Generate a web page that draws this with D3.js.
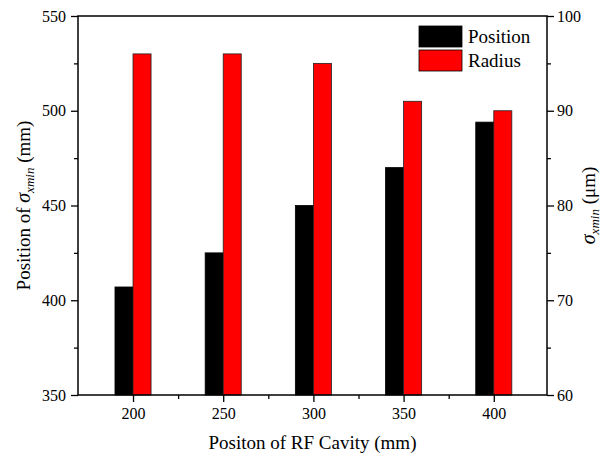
<!DOCTYPE html>
<html>
<head>
<meta charset="utf-8">
<script src="https://cdn.jsdelivr.net/npm/d3@7"></script>
<style>
  body { margin: 0; background: #fff; }
  svg { display: block; }
  svg text { font-family: "Times New Roman", "Liberation Serif", "DejaVu Serif", serif; }
</style>
</head>
<body>
<svg id="chart" width="609" height="457"></svg>
<script>
// RF cavity positions (mm)
const cavityPositions = [200, 250, 300, 350, 400];
// position of sigma_xmin (mm), left axis
const positionValues = [407, 425, 450, 470, 494];
// sigma_xmin radius (um), right axis
const radiusValues = [96, 96, 95, 91, 90];

const leftTicks = [350, 400, 450, 500, 550];
const rightTicks = [60, 70, 80, 90, 100];

const margin = { top: 16, right: 62, bottom: 62, left: 78 };
const width = 609;
const height = 457;
const innerWidth = width - margin.left - margin.right;
const innerHeight = height - margin.top - margin.bottom;

const svg = d3.select('#chart');
const g = svg.append('g').attr('transform', `translate(${margin.left},${margin.top})`);

const xScale = d3.scaleLinear().domain([169.5, 429.5]).range([0, innerWidth]);
const yLeft = d3.scaleLinear().domain([350, 550]).range([innerHeight, 0]);
const yRight = d3.scaleLinear().domain([60, 100]).range([innerHeight, 0]);

const barWidth = 10; // in x units

// Bars
g.selectAll('rect.pos')
  .data(cavityPositions)
  .join('rect')
  .attr('class', 'pos')
  .attr('x', (d) => xScale(d - barWidth))
  .attr('width', (d) => xScale(d) - xScale(d - barWidth))
  .attr('y', (d, i) => yLeft(positionValues[i]))
  .attr('height', (d, i) => innerHeight - yLeft(positionValues[i]))
  .attr('fill', '#000')
  .attr('stroke', '#000')
  .attr('stroke-width', 0.8);

g.selectAll('rect.rad')
  .data(cavityPositions)
  .join('rect')
  .attr('class', 'rad')
  .attr('x', (d) => xScale(d))
  .attr('width', (d) => xScale(d + barWidth) - xScale(d))
  .attr('y', (d, i) => yRight(radiusValues[i]))
  .attr('height', (d, i) => innerHeight - yRight(radiusValues[i]))
  .attr('fill', '#ff0000')
  .attr('stroke', '#222')
  .attr('stroke-width', 0.8);

// Frame
g.append('rect')
  .attr('width', innerWidth)
  .attr('height', innerHeight)
  .attr('fill', 'none')
  .attr('stroke', '#000')
  .attr('stroke-width', 1.5);

const styleAxis = (axis) => {
  axis.attr('font-family', null).attr('font-size', null);
  axis.select('.domain').remove();
  axis.selectAll('.tick line').attr('stroke', '#000').attr('stroke-width', 1.3);
  axis.selectAll('.tick text')
    .attr('fill', '#000')
    .style('font-size', '16px');
};
const minorStyle = (axis) => {
  axis.select('.domain').remove();
  axis.selectAll('.tick line').attr('stroke', '#000').attr('stroke-width', 1.3);
  axis.selectAll('.tick text').remove();
};

// Left axis
g.append('g')
  .call(d3.axisLeft(yLeft).tickValues(leftTicks).tickSize(7).tickPadding(5))
  .call(styleAxis);
g.append('g')
  .call(d3.axisLeft(yLeft).tickValues([375, 425, 475, 525]).tickSize(4))
  .call(minorStyle);

// Right axis
g.append('g')
  .attr('transform', `translate(${innerWidth},0)`)
  .call(d3.axisRight(yRight).tickValues(rightTicks).tickSize(7).tickPadding(3))
  .call(styleAxis);
g.append('g')
  .attr('transform', `translate(${innerWidth},0)`)
  .call(d3.axisRight(yRight).tickValues([65, 75, 85, 95]).tickSize(4))
  .call(minorStyle);

// Bottom axis
g.append('g')
  .attr('transform', `translate(0,${innerHeight})`)
  .call(d3.axisBottom(xScale).tickValues(cavityPositions).tickSize(7).tickPadding(6))
  .call(styleAxis);
g.append('g')
  .attr('transform', `translate(0,${innerHeight})`)
  .call(d3.axisBottom(xScale).tickValues([225, 275, 325, 375]).tickSize(4))
  .call(minorStyle);

// Axis titles
svg.append('text')
  .attr('x', margin.left + innerWidth / 2)
  .attr('y', 449)
  .attr('text-anchor', 'middle')
  .attr('font-size', '19px')
  .attr('fill', '#000')
  .text('Positon of RF Cavity (mm)');

const leftTitle = svg.append('text')
  .attr('transform', `translate(30,${margin.top + innerHeight / 2}) rotate(-90)`)
  .attr('text-anchor', 'middle')
  .attr('font-size', '19px')
  .attr('fill', '#000');
leftTitle.append('tspan').text('Position of ');
leftTitle.append('tspan').attr('font-style', 'italic').attr('font-size', '20px').text('σ');
leftTitle.append('tspan').attr('font-style', 'italic').attr('font-size', '13px').attr('dy', 4).text('xmin');
leftTitle.append('tspan').attr('dy', -4).text(' (mm)');

const rightTitle = svg.append('text')
  .attr('transform', `translate(595,${margin.top + innerHeight / 2}) rotate(-90)`)
  .attr('text-anchor', 'middle')
  .attr('font-size', '19px')
  .attr('fill', '#000');
rightTitle.append('tspan').attr('font-style', 'italic').attr('font-size', '20px').text('σ');
rightTitle.append('tspan').attr('font-style', 'italic').attr('font-size', '13px').attr('dy', 4).text('xmin');
rightTitle.append('tspan').attr('dy', -4).text(' (μm)');

// Legend
const legendItems = [
  { label: 'Position', color: '#000' },
  { label: 'Radius', color: '#ff0000' },
];
const legend = svg.append('g').attr('transform', 'translate(419,26)');
legendItems.forEach((item, i) => {
  legend.append('rect')
    .attr('x', 0)
    .attr('y', i * 24)
    .attr('width', 43)
    .attr('height', 21)
    .attr('fill', item.color)
    .attr('stroke', '#000')
    .attr('stroke-width', 0.8);
  legend.append('text')
    .attr('x', 49)
    .attr('y', i * 24 + 17)
    .attr('font-size', '19px')
    .attr('fill', '#000')
    .text(item.label);
});
</script>
</body>
</html>
